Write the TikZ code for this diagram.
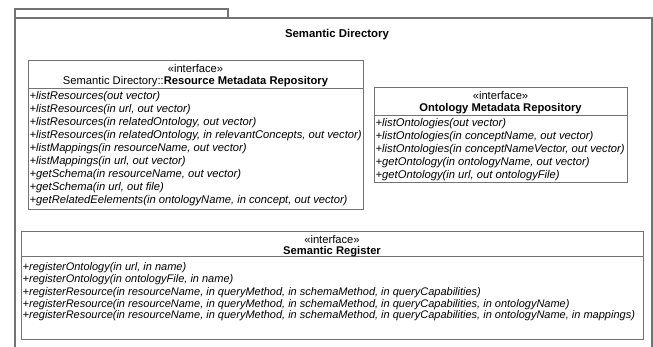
\documentclass[tikz,border=0pt]{standalone}
\usepackage{fontspec}
\setmainfont{Liberation Sans}
\begin{document}
\begin{tikzpicture}[x=1pt,y=-1pt,
  frameline/.style={draw=black!55, line width=1.2pt},
  boxline/.style={draw=black!55, line width=1pt},
  op/.style={anchor=base west, inner sep=0pt, font=\fontsize{11.2}{13}\selectfont\itshape},
  opsmall/.style={anchor=base west, inner sep=0pt, font=\fontsize{11}{13}\selectfont\itshape},
  stereo/.style={anchor=base, inner sep=0pt, font=\fontsize{11.2}{13}\selectfont},
  cname/.style={anchor=base, inner sep=0pt, font=\fontsize{11.2}{13}\selectfont},
  pkgname/.style={anchor=base, inner sep=0pt, font=\fontsize{11.4}{13}\selectfont\bfseries}
]
\useasboundingbox (0,0) rectangle (653,347);
% package frame
\draw[frameline] (15,18) rectangle (228,9);
\draw[frameline] (15,350) -- (15,18) -- (652,18) -- (652,350);
\node[pkgname] (pkg) at (337,38) {Semantic Directory};

% Box 1
\draw[boxline] (28,61) rectangle (363,210);
\draw[boxline] (28,89) -- (363,89);
\node[stereo] (b1s) at (195.5,73) {«interface»};
\node[cname] (b1n) at (195.5,85) {Semantic Directory::\textbf{Resource Metadata Repository}};
\foreach \t [count=\i from 0] in {
  {+listResources(out vector)},
  {+listResources(in url, out vector)},
  {+listResources(in relatedOntology, out vector)},
  {+listResources(in relatedOntology, in relevantConcepts, out vector)},
  {+listMappings(in resourceName, out vector)},
  {+listMappings(in url, out vector)},
  {+getSchema(in resourceName, out vector)},
  {+getSchema(in url, out file)},
  {+getRelatedEelements(in ontologyName, in concept, out vector)}}
  \node[op] (b1op\i) at (29.5,100+13*\i) {\t};

% Box 2
\draw[boxline] (374,88) rectangle (627,183);
\draw[boxline] (374,116) -- (627,116);
\node[stereo] (b2s) at (500.5,100) {«interface»};
\node[cname] (b2n) at (500.5,112) {\textbf{Ontology Metadata Repository}};
\foreach \t [count=\i from 0] in {
  {+listOntologies(out vector)},
  {+listOntologies(in conceptName, out vector)},
  {+listOntologies(in conceptNameVector, out vector)},
  {+getOntology(in ontologyName, out vector)},
  {+getOntology(in url, out ontologyFile)}}
  \node[op] (b2op\i) at (375.5,127+13*\i) {\t};

% Box 3
\draw[boxline] (21,232) rectangle (643,339);
\draw[boxline] (21,257) -- (643,257);
\node[stereo] (b3s) at (332,244) {«interface»};
\node[cname] (b3n) at (332,255) {\textbf{Semantic Register}};
\foreach \t [count=\i from 0] in {
  {+registerOntology(in url, in name)},
  {+registerOntology(in ontologyFile, in name)},
  {+registerResource(in resourceName, in queryMethod, in schemaMethod, in queryCapabilities)},
  {+registerResource(in resourceName, in queryMethod, in schemaMethod, in queryCapabilities, in ontologyName)},
  {+registerResource(in resourceName, in queryMethod, in schemaMethod, in queryCapabilities, in ontologyName, in mappings)}}
  \node[opsmall] (b3op\i) at (22.5,271+12*\i) {\t};
\end{tikzpicture}
\end{document}
